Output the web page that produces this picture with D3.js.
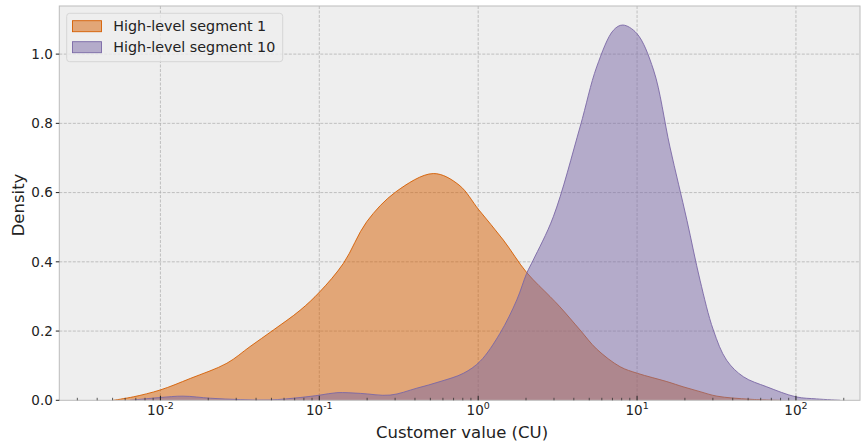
<!DOCTYPE html>
<html>
<head>
<meta charset="utf-8">
<script src="https://cdn.jsdelivr.net/npm/d3@7"></script>
<style>
  body { margin: 0; background: #fff; }
  svg { display: block; font-family: "DejaVu Sans", sans-serif; }
</style>
</head>
<body>
<svg id="chart" width="861" height="445"></svg>
<script>
// customer value (CU) and density, per segment
var seg1Value = [0.00504, 0.00676, 0.0100, 0.0154, 0.0262, 0.0366, 0.0514, 0.0757, 0.101, 0.142,
                 0.199, 0.303, 0.522, 0.757, 1.01, 1.44, 2.02, 2.83, 3.27, 4.38,
                 5.57, 7.82, 10.05, 15.4, 19.5, 24.9, 31.8, 51.4, 79.4];
var seg1Density = [0.0, 0.010, 0.030, 0.063, 0.107, 0.155, 0.203, 0.260, 0.314, 0.396,
                   0.516, 0.602, 0.655, 0.622, 0.550, 0.463, 0.369, 0.300, 0.270, 0.203,
                   0.148, 0.097, 0.078, 0.054, 0.039, 0.025, 0.012, 0.003, 0.0];

var seg10Value = [0.00644, 0.00995, 0.0139, 0.0206, 0.0318, 0.0490, 0.0757, 0.101, 0.129, 0.181,
                  0.279, 0.411, 0.575, 0.807, 1.03, 1.37, 1.75, 2.02, 2.22, 2.97,
                  4.38, 5.57, 7.10, 8.13, 9.95, 12.7, 16.1, 20.6, 24.9, 30.2,
                  36.6, 46.7, 65.5, 100, 135, 190];
var seg10Density = [0.0, 0.008, 0.012, 0.006, 0.002, 0.001, 0.008, 0.015, 0.022, 0.020,
                    0.015, 0.035, 0.054, 0.078, 0.113, 0.193, 0.290, 0.367, 0.405, 0.530,
                    0.790, 0.963, 1.069, 1.084, 1.060, 0.954, 0.732, 0.520, 0.347, 0.203,
                    0.116, 0.068, 0.039, 0.010, 0.004, 0.0];

var seriesNames = ["High-level segment 1", "High-level segment 10"];
var seriesColors = ["#D55E00", "#7A68A6"];
var yTicks = [0.0, 0.2, 0.4, 0.6, 0.8, 1.0];
var xTickExp = [-2, -1, 0, 1, 2];

var svg = d3.select("#chart"),
    plotL = 59.3, plotR = 860, plotT = 6, plotB = 400.3;

var x = d3.scaleLog().domain([0.00231, 253]).range([plotL, plotR]),
    y = d3.scaleLinear().domain([0, 1.139]).range([plotB, plotT]);

var series = [
  { name: seriesNames[0], color: seriesColors[0], pts: seg1Value.map(function(v, i) { return [v, seg1Density[i]]; }) },
  { name: seriesNames[1], color: seriesColors[1], pts: seg10Value.map(function(v, i) { return [v, seg10Density[i]]; }) }
];

svg.append("defs").append("clipPath").attr("id", "plotClip")
  .append("rect")
    .attr("x", plotL).attr("y", plotT)
    .attr("width", plotR - plotL).attr("height", plotB - plotT);

// axes background
svg.append("rect")
    .attr("x", plotL).attr("y", plotT)
    .attr("width", plotR - plotL).attr("height", plotB - plotT)
    .attr("fill", "#eeeeee");

// grid
var grid = svg.append("g").attr("stroke", "#b2b2b2").attr("stroke-width", 0.8).attr("stroke-dasharray", "3,1.5");
grid.selectAll(".gx")
  .data(xTickExp)
  .enter().append("line")
    .attr("x1", function(d) { return x(Math.pow(10, d)); })
    .attr("x2", function(d) { return x(Math.pow(10, d)); })
    .attr("y1", plotT).attr("y2", plotB);
grid.selectAll(".gy")
  .data(yTicks.slice(1))
  .enter().append("line")
    .attr("x1", plotL).attr("x2", plotR)
    .attr("y1", function(d) { return y(d); })
    .attr("y2", function(d) { return y(d); });

// density areas
var curve = d3.curveCatmullRom.alpha(0.5);
var area = d3.area()
    .x(function(d) { return x(d[0]); })
    .y0(y(0))
    .y1(function(d) { return y(d[1]); })
    .curve(curve);

var line = d3.line()
    .x(function(d) { return x(d[0]); })
    .y(function(d) { return y(d[1]); })
    .curve(curve);

var plot = svg.append("g").attr("clip-path", "url(#plotClip)");
series.forEach(function(s) {
  plot.append("path")
      .attr("d", area(s.pts))
      .attr("fill", s.color)
      .attr("fill-opacity", 0.5);
  plot.append("path")
      .attr("d", line(s.pts))
      .attr("fill", "none")
      .attr("stroke", s.color)
      .attr("stroke-width", 0.9);
});

// frame
svg.append("rect")
    .attr("x", plotL).attr("y", plotT)
    .attr("width", plotR - plotL).attr("height", plotB - plotT)
    .attr("fill", "none")
    .attr("stroke", "#bcbcbc")
    .attr("stroke-width", 1);

// x ticks: major + minor, pointing inward
var minor = [];
for (var e = -3; e <= 2; e++) {
  for (var m = 2; m <= 9; m++) {
    var v = m * Math.pow(10, e);
    if (v > x.domain()[0] && v < x.domain()[1]) minor.push(v);
  }
}
svg.append("g").selectAll("line")
  .data(minor)
  .enter().append("line")
    .attr("x1", function(d) { return x(d); })
    .attr("x2", function(d) { return x(d); })
    .attr("y1", plotB).attr("y2", plotB - 2.5)
    .attr("stroke", "#333").attr("stroke-width", 0.8);
svg.append("g").selectAll("line")
  .data(xTickExp)
  .enter().append("line")
    .attr("x1", function(d) { return x(Math.pow(10, d)); })
    .attr("x2", function(d) { return x(Math.pow(10, d)); })
    .attr("y1", plotB).attr("y2", plotB - 4.5)
    .attr("stroke", "#222").attr("stroke-width", 1);

var xl = svg.append("g").selectAll("text")
  .data(xTickExp)
  .enter().append("text")
    .attr("x", function(d) { return x(Math.pow(10, d)); })
    .attr("y", 415)
    .attr("text-anchor", "middle")
    .attr("font-size", "13.5px")
    .attr("fill", "#222");
xl.append("tspan").text("10");
xl.append("tspan")
    .attr("dy", -6)
    .attr("font-size", "9.5px")
    .text(function(d) { return d < 0 ? "-" + Math.abs(d) : "" + d; });

// y ticks
svg.append("g").selectAll("line")
  .data(yTicks)
  .enter().append("line")
    .attr("x1", plotL - 3.5).attr("x2", plotL)
    .attr("y1", function(d) { return y(d); })
    .attr("y2", function(d) { return y(d); })
    .attr("stroke", "#222").attr("stroke-width", 1);
svg.append("g").selectAll("text")
  .data(yTicks)
  .enter().append("text")
    .attr("x", plotL - 6.5)
    .attr("y", function(d) { return y(d); })
    .attr("dy", "0.35em")
    .attr("text-anchor", "end")
    .attr("font-size", "13.5px")
    .attr("fill", "#222")
    .text(function(d) { return d.toFixed(1); });

// axis labels
svg.append("text")
    .attr("x", 462)
    .attr("y", 437.5)
    .attr("text-anchor", "middle")
    .attr("font-size", "16.5px")
    .attr("fill", "#222")
    .text("Customer value (CU)");
svg.append("text")
    .attr("transform", "translate(24,205) rotate(-90)")
    .attr("text-anchor", "middle")
    .attr("font-size", "16.5px")
    .attr("fill", "#222")
    .text("Density");

// legend
var lg = svg.append("g");
lg.append("rect")
    .attr("x", 66.7).attr("y", 13.3)
    .attr("width", 216).attr("height", 48.4)
    .attr("rx", 3)
    .attr("fill", "#eeeeee").attr("fill-opacity", 0.8)
    .attr("stroke", "#d6d6d6").attr("stroke-width", 1);
var item = lg.selectAll(".item")
  .data(series)
  .enter().append("g")
    .attr("transform", function(d, i) { return "translate(0," + (26.2 + i * 21) + ")"; });
item.append("rect")
    .attr("x", 72.5).attr("y", -5.5)
    .attr("width", 29).attr("height", 11)
    .attr("fill", function(d) { return d.color; })
    .attr("fill-opacity", 0.5)
    .attr("stroke", function(d) { return d.color; })
    .attr("stroke-width", 0.9);
item.append("text")
    .attr("x", 113.3)
    .attr("dy", "0.35em")
    .attr("font-size", "14.3px")
    .attr("fill", "#222")
    .text(function(d) { return d.name; });
</script>
</body>
</html>
